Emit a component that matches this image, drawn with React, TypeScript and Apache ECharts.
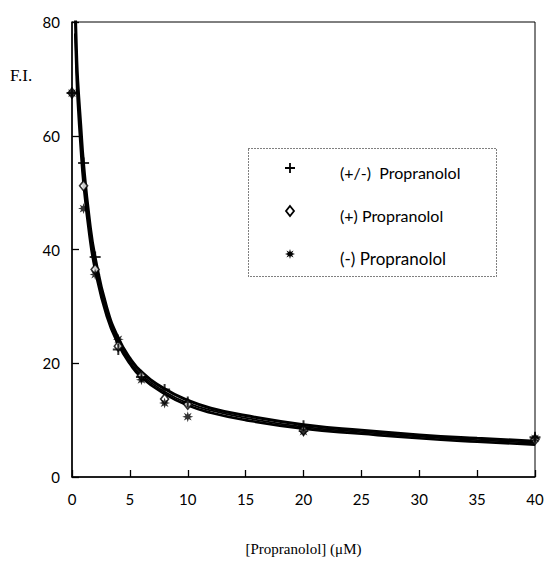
import React, { useEffect, useRef } from "react";
import * as echarts from "echarts";

// Observed data points (x in µM, y = F.I.)
const xRacemic = [0, 1, 2, 4, 6, 8, 10, 20, 40];
const yRacemic = [67.5, 55.2, 38.7, 22.4, 17.6, 15.4, 13.2, 9.0, 7.0];
const xPlus = [0, 1, 2, 4, 6, 8, 10, 20, 40];
const yPlus = [67.5, 51.2, 36.5, 23.0, 17.8, 13.7, 12.8, 8.2, 6.6];
const xMinus = [0, 1, 2, 4, 6, 8, 10, 20, 40];
const yMinus = [67.5, 47.2, 35.6, 24.2, 17.1, 13.0, 10.6, 8.0, 6.8];

// Fitted curves
const curveX = [0.28, 0.4, 0.5, 0.75, 1, 1.5, 2, 3, 4, 5, 6, 8, 10, 12, 15, 20, 25, 30, 35, 40];
const curveRacemic = [82, 74, 69.5, 62, 55, 45.3, 38.6, 29.8, 24.4, 20.9, 18.5, 15.5, 13.5, 12.1, 10.8, 9.2, 8.2, 7.4, 6.8, 6.3];
const curvePlus = [80, 72, 67.5, 60, 53.2, 43.9, 37.4, 29.0, 23.8, 20.3, 17.9, 15.0, 13.0, 11.7, 10.4, 8.8, 7.9, 7.1, 6.5, 6.0];
const curveMinus = [78, 70.5, 66, 58, 51.5, 42.6, 36.4, 28.3, 23.3, 19.9, 17.5, 14.6, 12.6, 11.3, 10.0, 8.5, 7.6, 6.8, 6.2, 5.7];

const xTicks = [0, 5, 10, 15, 20, 25, 30, 35, 40];
const yTicks = [0, 20, 40, 60, 80];

const legendNames = ["(+/-)  Propranolol", "(+) Propranolol", "(-) Propranolol"];

const PLUS_D = "M4.1,0H5.9V4.1H10V5.9H5.9V10H4.1V5.9H0V4.1H4.1Z";

function starPath(): string {
  const pts: string[] = [];
  for (let i = 0; i < 16; i++) {
    const r = i % 2 === 0 ? 5 : 2.3;
    const a = (i * Math.PI) / 8 - Math.PI / 2;
    pts.push(`${(5 + r * Math.cos(a)).toFixed(2)},${(5 + r * Math.sin(a)).toFixed(2)}`);
  }
  return "M" + pts.join("L") + "Z";
}
const STAR_D = starPath();

let registered = false;
function registerShapes() {
  if (registered) return;
  registered = true;
  echarts.graphic.registerShape("plusMark", echarts.graphic.extendPath(PLUS_D, {}) as any);
  echarts.graphic.registerShape("starMark", echarts.graphic.extendPath(STAR_D, {}) as any);
}

const zip = (xs: number[], ys: number[]) => xs.map((x, i) => [x, ys[i]]);

export default function App() {
  const ref = useRef<HTMLDivElement>(null);
  useEffect(() => {
    if (!ref.current) return;
    registerShapes();
    const chart = echarts.init(ref.current, null, { renderer: "svg" });
    const sansFont = "Lato";
    const curveCommon = {
      type: "line",
      showSymbol: false,
      smooth: 0.5,
      silent: true,
      z: 2,
    };
    const legendX = 290;
    const legendY = [168, 211, 254];
    chart.setOption({
      animation: false,
      backgroundColor: "#fff",
      grid: {
        left: 72,
        right: 12,
        top: 22,
        bottom: 83,
        show: true,
        borderColor: "#000",
        borderWidth: 1,
        backgroundColor: "transparent",
      },
      xAxis: {
        type: "value",
        min: 0,
        max: 40,
        interval: 5,
        axisLine: { show: true, lineStyle: { color: "#000", width: 1.5 } },
        axisTick: { show: true, inside: true, length: 7, lineStyle: { color: "#000", width: 1.3 } },
        axisLabel: {
          color: "#000",
          fontFamily: sansFont,
          fontSize: 15,
          margin: 14,
          formatter: (v: number) => (xTicks.includes(v) ? String(v) : ""),
        },
        splitLine: { show: false },
        name: "[Propranolol] (μM)",
        nameLocation: "middle",
        nameGap: 64,
        nameTextStyle: { color: "#000", fontFamily: "Liberation Serif", fontSize: 15 },
      },
      yAxis: {
        type: "value",
        min: 0,
        max: 80,
        interval: 20,
        axisLine: { show: true, lineStyle: { color: "#000", width: 1.5 } },
        axisTick: { show: true, inside: true, length: 7, lineStyle: { color: "#000", width: 1.3 } },
        axisLabel: {
          color: "#000",
          fontFamily: sansFont,
          fontSize: 15,
          margin: 12,
          formatter: (v: number) => (yTicks.includes(v) ? String(v) : ""),
        },
        splitLine: { show: false },
      },
      series: [
        { ...curveCommon, name: "fit racemic", data: zip(curveX, curveRacemic), lineStyle: { color: "#000", width: 3 } },
        { ...curveCommon, name: "fit plus", data: zip(curveX, curvePlus), lineStyle: { color: "#000", width: 1.8 } },
        { ...curveCommon, name: "fit minus", data: zip(curveX, curveMinus), lineStyle: { color: "#000", width: 2.6 } },
        {
          type: "scatter",
          name: legendNames[1],
          data: zip(xPlus, yPlus),
          symbol: "diamond",
          symbolSize: [8, 10],
          itemStyle: { color: "#fff", borderColor: "#000", borderWidth: 1.6 },
          z: 4,
          clip: false,
        },
        {
          type: "scatter",
          name: legendNames[0],
          data: zip(xRacemic, yRacemic),
          symbol: "path://" + PLUS_D,
          symbolSize: 11,
          itemStyle: { color: "#000" },
          z: 5,
          clip: false,
        },
        {
          type: "scatter",
          name: legendNames[2],
          data: zip(xMinus, yMinus),
          symbol: "path://" + STAR_D,
          symbolSize: 11,
          itemStyle: { color: "#000" },
          z: 5,
          clip: false,
        },
      ],
      graphic: [
        {
          type: "text",
          left: 10,
          top: 67,
          style: { text: "F.I.", fill: "#000", font: "17px 'Liberation Serif'" },
        },
        {
          type: "rect",
          shape: { x: 248.5, y: 148.5, width: 248, height: 128 },
          style: { fill: "#fff", stroke: "#000", lineWidth: 1, lineDash: [1, 2] },
          z: 10,
        },
        {
          type: "plusMark",
          x: legendX - 5,
          y: legendY[0] - 5,
          scaleX: 1,
          scaleY: 1,
          style: { fill: "#000" },
          z: 11,
        },
        {
          type: "polygon",
          shape: {
            points: [
              [legendX, legendY[1] - 5],
              [legendX + 4, legendY[1]],
              [legendX, legendY[1] + 5],
              [legendX - 4, legendY[1]],
            ],
          },
          style: { fill: "#fff", stroke: "#000", lineWidth: 1.8 },
          z: 11,
        },
        {
          type: "starMark",
          x: legendX - 5,
          y: legendY[2] - 5,
          scaleX: 1,
          scaleY: 1,
          style: { fill: "#000" },
          z: 11,
        },
        ...legendNames.map((n, i) => ({
          type: "text",
          x: 340,
          y: legendY[i] + 4,
          style: {
            text: n,
            fill: "#000",
            font: `${i === 2 ? 17 : 16}px ${sansFont}`,
            verticalAlign: "middle",
            textAlign: "left",
          },
          z: 11,
        })),
      ],
    });
    return () => chart.dispose();
  }, []);
  return (
    <div
      ref={ref}
      style={{ position: "fixed", left: 0, top: 0, width: 547, height: 561, background: "#fff" }}
    />
  );
}
